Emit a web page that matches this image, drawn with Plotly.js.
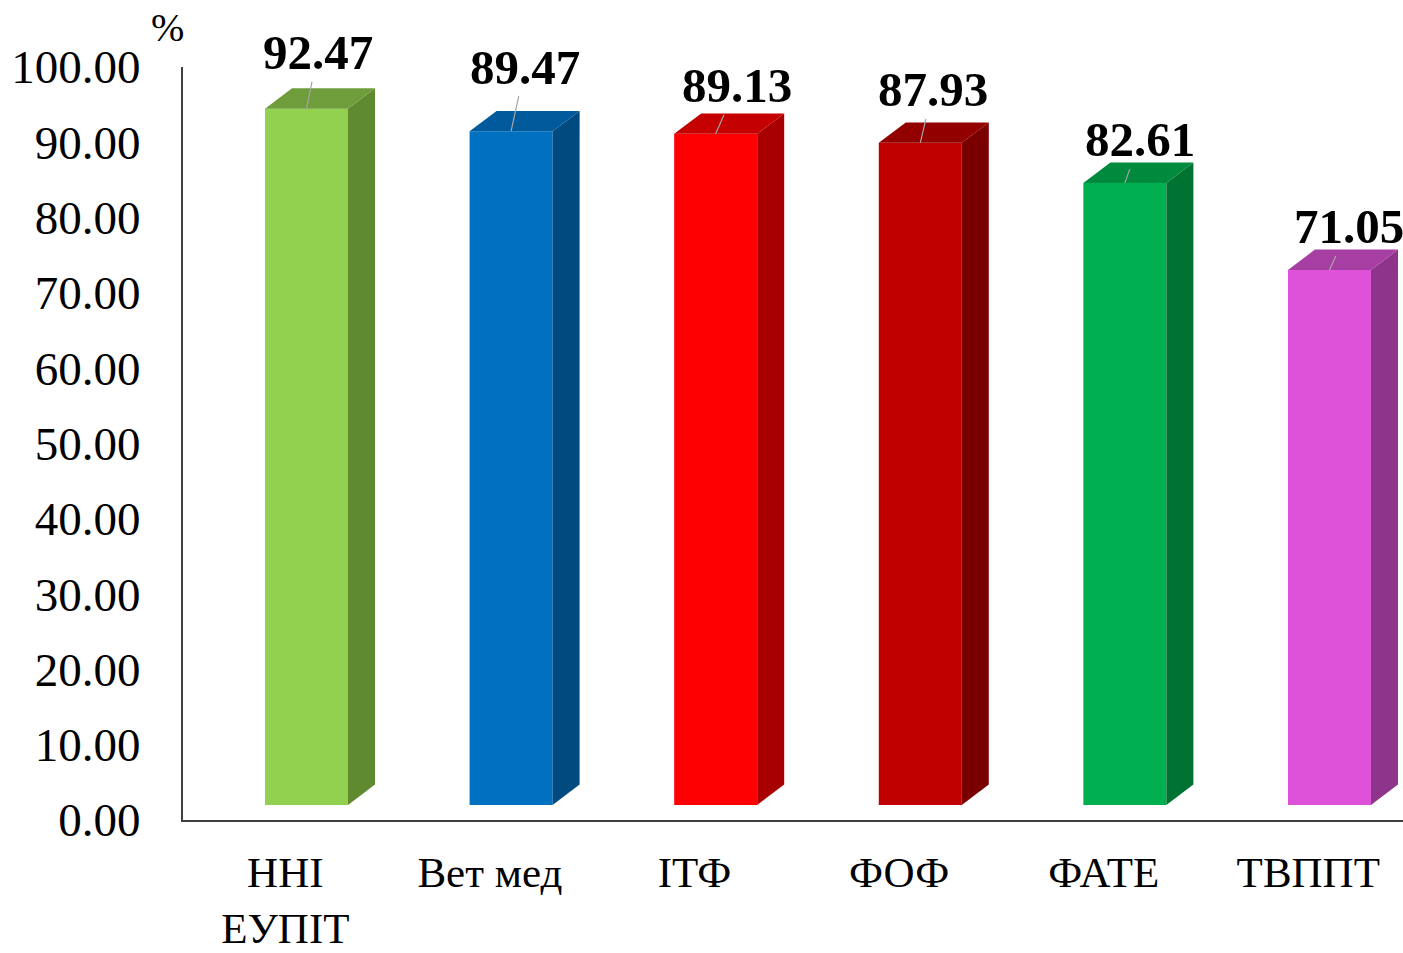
<!DOCTYPE html>
<html>
<head>
<meta charset="utf-8">
<script src="https://cdn.plot.ly/plotly-3.0.1.min.js"></script>
<style>html,body{margin:0;padding:0;background:#fff;}#chart{width:1403px;height:953px;}</style>
</head>
<body>
<div id="chart"></div>
<script>
// ---- data ----
const categories = ["ННІ<br>ЕУПІТ", "Вет мед", "ІТФ", "ФОФ", "ФАТЕ", "ТВППТ"];
const values = [92.47, 89.47, 89.13, 87.93, 82.61, 71.05];
const valueLabels = ["92.47", "89.47", "89.13", "87.93", "82.61", "71.05"];
const yTickVals = [0, 10, 20, 30, 40, 50, 60, 70, 80, 90, 100];
const yTickText = ["0.00", "10.00", "20.00", "30.00", "40.00", "50.00", "60.00", "70.00", "80.00", "90.00", "100.00"];

// ---- styles ----
const frontColors = ["#92D050", "#0070C0", "#FF0000", "#C00000", "#00B050", "#DD52D8"];
const sideColors  = ["#5F8A30", "#004A80", "#A80000", "#7A0000", "#007332", "#8E348A"];
const topColors   = ["#6F9D3C", "#005A9C", "#C40000", "#920000", "#008A3E", "#A73FA3"];
const labelDx = [11.5, 14, 21, 12.5, 15.5, 19.5];
const labelDy = [-56, -64, -48, -53, -43, -43];

const barOffset = 0.1036;  // front face centre relative to category
const barWidth = 0.4057;
const floorBase = 2.0;     // front face raised above axis (3-D floor)
const depthX = 0.132;
const depthY = 2.7;

const traces = [];
traces.push({
  type: "bar",
  x: categories.map((c, i) => i + barOffset),
  y: values,
  base: values.map(() => floorBase),
  width: barWidth,
  marker: {color: frontColors, line: {width: 0}},
  hoverinfo: "skip",
  showlegend: false
});
values.forEach((v, i) => {
  const xl = i + barOffset - barWidth / 2;
  const xr = i + barOffset + barWidth / 2;
  const b = floorBase, t = floorBase + v;
  traces.push({
    type: "scatter", mode: "lines", fill: "toself",
    x: [xr, xr + depthX, xr + depthX, xr, xr],
    y: [b, b + depthY, t + depthY, t, b],
    fillcolor: sideColors[i], line: {width: 0, color: sideColors[i]},
    hoverinfo: "skip", showlegend: false
  });
  traces.push({
    type: "scatter", mode: "lines", fill: "toself",
    x: [xl, xl + depthX, xr + depthX, xr, xl],
    y: [t, t + depthY, t + depthY, t, t],
    fillcolor: topColors[i], line: {width: 0, color: topColors[i]},
    hoverinfo: "skip", showlegend: false
  });
});

const annotations = values.map((v, i) => ({
  x: i + barOffset, y: v + floorBase, xref: "x", yref: "y",
  text: "<b>" + valueLabels[i] + "</b>",
  showarrow: true, arrowhead: 0, arrowwidth: 1.2, arrowcolor: "#A6A6A6",
  ax: labelDx[i], ay: labelDy[i],
  font: {family: "Liberation Serif", size: 49, color: "#000"}
}));
annotations.push({
  xref: "paper", yref: "paper", x: -0.0123, y: 1.053,
  xanchor: "center", yanchor: "middle",
  text: "%", showarrow: false,
  font: {family: "Liberation Serif", size: 40, color: "#000"}
});

const layout = {
  width: 1403, height: 953,
  margin: {l: 183, r: 0, t: 67, b: 133},
  paper_bgcolor: "#fff", plot_bgcolor: "#fff",
  showlegend: false,
  xaxis: {
    range: [-0.5, 5.463],
    tickvals: categories.map((c, i) => i),
    ticktext: categories,
    showgrid: false, zeroline: false,
    showline: true, linecolor: "#404040", linewidth: 2,
    ticks: "", ticklabelstandoff: 13,
    tickfont: {family: "Liberation Serif", size: 43, color: "#000"},
    fixedrange: true
  },
  yaxis: {
    range: [0, 100],
    tickvals: yTickVals, ticktext: yTickText,
    showgrid: false, zeroline: false,
    showline: true, linecolor: "#404040", linewidth: 2,
    ticks: "", ticklabelstandoff: 31,
    tickfont: {family: "Liberation Serif", size: 47, color: "#000"},
    fixedrange: true
  },
  annotations: annotations
};

Plotly.newPlot("chart", traces, layout, {displayModeBar: false, staticPlot: true});
</script>
</body>
</html>
